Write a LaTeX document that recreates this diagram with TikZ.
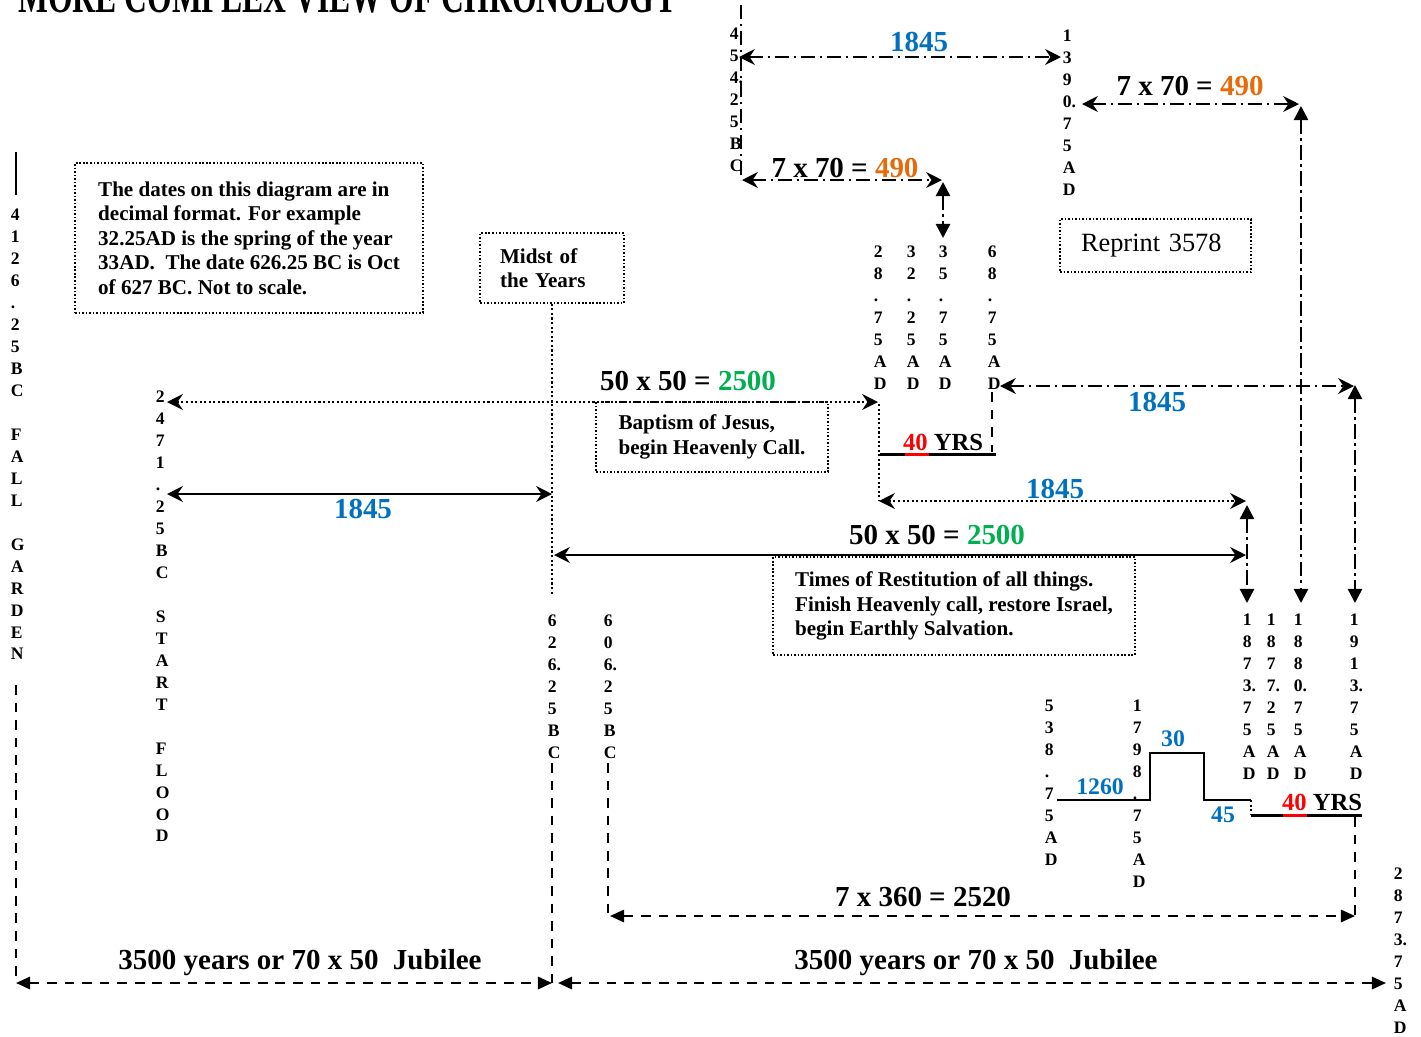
\documentclass[tikz,border=0pt]{standalone}
\usepackage{fontspec}
\setmainfont{Liberation Serif}
\usetikzlibrary{arrows.meta,positioning}

\definecolor{yrblue}{RGB}{0,112,192}
\definecolor{yrorange}{RGB}{228,108,10}
\definecolor{yrgreen}{RGB}{0,176,80}
\definecolor{yrred}{RGB}{255,0,0}

\tikzset{
  opentip/.tip={Stealth[length=9pt,width=9pt,inset=3pt]},
  filltip/.tip={Triangle[length=8pt,width=8pt]},
  smalltip/.tip={Triangle[length=8pt,width=7pt]},
  datecol/.style={anchor=north west,inner sep=0pt,align=left,font=\bfseries\fontsize{10}{12.5}\selectfont},
  notebox/.style={draw,line width=0.9pt,dash pattern=on 0.9pt off 1.1pt,align=left,font=\bfseries\fontsize{12}{13.9}\selectfont},
  spanlabel/.style={font=\bfseries\fontsize{16.5}{19}\selectfont},
  steplabel/.style={font=\bfseries\fontsize{13.5}{16}\selectfont,text=yrblue},
  yrslabel/.style={font=\bfseries\fontsize{14}{16}\selectfont},
  dotline/.style={line width=1.2pt,dash pattern=on 1.2pt off 1.4pt},
  dashdotline/.style={line width=1.4pt,dash pattern=on 8pt off 2.8pt on 1.2pt off 2.8pt},
  dashline/.style={line width=1.3pt,dash pattern=on 5.5pt off 4.5pt},
  solidline/.style={line width=1.4pt},
  ruleline/.style={line width=1.7pt},
}

\begin{document}
\begin{tikzpicture}[x=0.02cm,y=-0.02cm]
\useasboundingbox (0,0) rectangle (1421,1036);

% Title, cut by the top edge
\node[anchor=base west,inner sep=0pt,font=\bfseries\fontsize{18}{18}\selectfont] (title) at (18,12) {\scalebox{1}[1.5]{MORE COMPLEX VIEW OF CHRONOLOGY}};

% Note boxes
\node[notebox,minimum width=6.96cm,minimum height=3cm] (note) at (249,238) {The dates on this diagram are in\\decimal format. For example\\32.25AD is the spring of the year\\33AD.\ \ The date 626.25 BC is Oct\\of 627 BC. Not to scale.};
\node[notebox,text width=2.08cm,inner xsep=0.4cm,minimum height=1.4cm] (midst) at (552,268) {Midst of\\the Years};
\node[notebox,minimum width=4.64cm,minimum height=1.4cm] (baptism) at (712,437) {Baptism of Jesus,\\begin Heavenly Call.};
\node[notebox,minimum width=7.24cm,minimum height=1.96cm] (restitution) at (954,606) {Times of Restitution of all things.\\Finish Heavenly call, restore Israel,\\begin Earthly Salvation.};
\node[notebox,font=\fontsize{15}{18}\selectfont,text width=2.98cm,inner xsep=0.42cm,minimum height=1.06cm] (reprint) at (1155.5,245.5) {Reprint 3578};

% Dates, one character per line
\node[datecol] (fall) at (10.6,205) {\strut 4\\1\\2\\6\\.\\2\\5\\B\\C\\~\\F\\A\\L\\L\\~\\G\\A\\R\\D\\E\\N};
\node[datecol] (flood) at (155.6,387) {\strut 2\\4\\7\\1\\.\\2\\5\\B\\C\\~\\S\\T\\A\\R\\T\\~\\F\\L\\O\\O\\D};
\node[datecol] (d626) at (547.6,611) {\strut 6\\2\\6.\\2\\5\\B\\C};
\node[datecol] (d606) at (603.6,611) {\strut 6\\0\\6.\\2\\5\\B\\C};
\node[datecol] (d454) at (729.6,24) {\strut 4\\5\\4.\\2\\5\\B\\C};
\node[datecol] (d1390) at (1062.6,26) {\strut 1\\3\\9\\0.\\7\\5\\A\\D};
\node[datecol] (d28) at (873.6,242) {\strut 2\\8\\.\\7\\5\\A\\D};
\node[datecol] (d32) at (906.6,242) {\strut 3\\2\\.\\2\\5\\A\\D};
\node[datecol] (d35) at (938.6,242) {\strut 3\\5\\.\\7\\5\\A\\D};
\node[datecol] (d68) at (987.6,242) {\strut 6\\8\\.\\7\\5\\A\\D};
\node[datecol] (d538) at (1044.6,696) {\strut 5\\3\\8\\.\\7\\5\\A\\D};
\node[datecol] (d1798) at (1132.6,696) {\strut 1\\7\\9\\8\\.\\7\\5\\A\\D};
\node[datecol] (d1873) at (1242.6,610) {\strut 1\\8\\7\\3.\\7\\5\\A\\D};
\node[datecol] (d1877) at (1266.6,610) {\strut 1\\8\\7\\7.\\2\\5\\A\\D};
\node[datecol] (d1880) at (1293.6,610) {\strut 1\\8\\8\\0.\\7\\5\\A\\D};
\node[datecol] (d1913) at (1349.6,610) {\strut 1\\9\\1\\3.\\7\\5\\A\\D};
\node[datecol] (d2873) at (1393.6,864) {\strut 2\\8\\7\\3.\\7\\5\\A\\D};

% Fall of the garden line
\coordinate (fallTop) at (16,152);
\coordinate (fallTick) at (16,195);
\coordinate (fallFoot) at (16,685);
\draw[solidline] (fallTop) -- (fallTick);

% Two jubilee spans at the bottom
\coordinate (jubAL) at (16,983);
\coordinate (jubAR) at (552,983);
\coordinate (jubBL) at (558,983);
\coordinate (jubBR) at (1386,983);
\draw[dashline] (fallFoot) -- (jubAL);
\draw[dashline,smalltip-smalltip] (jubAL) -- (jubAR);
\draw[dashline,smalltip-smalltip] (jubBL) -- (jubBR);
\node[spanlabel,anchor=base] (jubA) at (300,969) {3500 years or 70 x 50\ \ Jubilee};
\node[spanlabel,anchor=base] (jubB) at (976,969) {3500 years or 70 x 50\ \ Jubilee};

% Midst of the years
\coordinate (midDot) at (552,595);
\coordinate (midFoot) at (552,763);
\draw[dotline] (midst.south) -- (midDot);
\draw[dashline] (midFoot) -- (jubAR);

% Flood to baptism, flood to midst
\coordinate (floodA) at (167,402);
\coordinate (baptA) at (878,402);
\draw[dotline,opentip-opentip] (floodA) -- (baptA);
\node[spanlabel] (g2500a) at (688,381) {50 x 50 = \textcolor{yrgreen}{2500}};
\coordinate (floodB) at (167,494);
\coordinate (midB) at (552,494);
\draw[solidline,opentip-opentip] (floodB) -- (midB);
\node[spanlabel,text=yrblue] (b1845c) at (363,509) {1845};

% Baptism to 1873
\coordinate (baptTop) at (879,404);
\coordinate (baptBot) at (879,501);
\coordinate (restDot) at (1246,501);
\draw[dotline] (baptTop) -- (baptBot);
\draw[dotline,opentip-opentip] (baptBot) -- (restDot);
\node[spanlabel,text=yrblue] (b1845d) at (1055,489) {1845};

% Midst to 1873
\coordinate (midC) at (554,555);
\coordinate (restC) at (1246,555);
\draw[solidline,opentip-opentip] (midC) -- (restC);
\node[spanlabel] (g2500b) at (937,535) {50 x 50 = \textcolor{yrgreen}{2500}};
\coordinate (r1873T) at (1247,505);
\coordinate (r1873B) at (1247,603);
\draw[dashdotline,filltip-filltip] (r1873T) -- (r1873B);

% 454.25 BC group
\coordinate (c454T) at (741,5);
\coordinate (c454B) at (741,180);
\draw[dashdotline] (c454T) -- (c454B);
\coordinate (t1845L) at (739,57);
\coordinate (t1845R) at (1061,57);
\draw[dashdotline,opentip-opentip] (t1845L) -- (t1845R);
\node[spanlabel,text=yrblue] (b1845a) at (919,42) {1845};
\coordinate (s490L) at (742,180);
\coordinate (s490R) at (942,180);
\draw[dashdotline,opentip-opentip] (s490L) -- (s490R);
\node[spanlabel] (o490a) at (845,168) {7 x 70 = \textcolor{yrorange}{490}};
\coordinate (s490T) at (943,182);
\coordinate (s490B) at (943,238);
\draw[dashdotline,filltip-filltip] (s490T) -- (s490B);

% 1390.75 AD to 1880
\coordinate (n490L) at (1082,104);
\coordinate (n490R) at (1299,104);
\draw[dashdotline,opentip-opentip] (n490L) -- (n490R);
\node[spanlabel] (o490b) at (1190,86) {7 x 70 = \textcolor{yrorange}{490}};
\coordinate (n490T) at (1301,106);
\coordinate (n490B) at (1301,603);
\draw[dashdotline,filltip-filltip] (n490T) -- (n490B);

% 68.75 AD to 1913
\coordinate (m1845L) at (1000,386);
\coordinate (m1845R) at (1354,386);
\draw[dashdotline,opentip-opentip] (m1845L) -- (m1845R);
\node[spanlabel,text=yrblue] (b1845b) at (1157,402) {1845};
\coordinate (m1845T) at (1355,385);
\coordinate (m1845B) at (1355,603);
\draw[dashdotline,filltip-filltip] (m1845T) -- (m1845B);

% First 40 years
\coordinate (yrsAL) at (880,454);
\coordinate (yrsAR) at (996,454);
\draw[ruleline] (yrsAL) -- (yrsAR);
\draw[ruleline,yrred] (905,454) -- (929,454);
\node[yrslabel] (yrsA) at (943,442) {\textcolor{yrred}{40} YRS};
\coordinate (d68Foot) at (992,392);
\coordinate (d68Rule) at (992,452);
\draw[dashline] (d68Foot) -- (d68Rule);

% 1260, 30, 45 steps
\coordinate (stepA) at (1057,800);
\coordinate (stepB) at (1150,753);
\coordinate (stepC) at (1204,800);
\coordinate (stepD) at (1251,800);
\draw[line width=1.2pt] (stepA) -| (stepB) -| (stepC) -- (stepD);
\node[steplabel] (s1260) at (1100,787) {1260};
\node[steplabel] (s30) at (1173,739) {30};
\node[steplabel] (s45) at (1223,815) {45};

% Second 40 years
\coordinate (r40L) at (1251,815);
\coordinate (r40R) at (1362,815);
\draw[dotline] (stepD) -- (r40L);
\draw[ruleline] (r40L) -- (r40R);
\draw[ruleline,yrred] (1283,815) -- (1307,815);
\node[yrslabel] (yrsB) at (1322,802) {\textcolor{yrred}{40} YRS};

% Seven times
\coordinate (r40Foot) at (1355,817);
\coordinate (s2520R) at (1355,916);
\coordinate (s2520L) at (610,916);
\coordinate (d606Foot) at (608,763);
\coordinate (s2520C) at (608,916);
\draw[dashline] (r40Foot) -- (s2520R);
\draw[dashline] (d606Foot) -- (s2520C);
\draw[dashline,smalltip-smalltip] (s2520L) -- (s2520R);
\node[spanlabel] (c2520) at (923,897) {7 x 360 = 2520};
\end{tikzpicture}
\end{document}
